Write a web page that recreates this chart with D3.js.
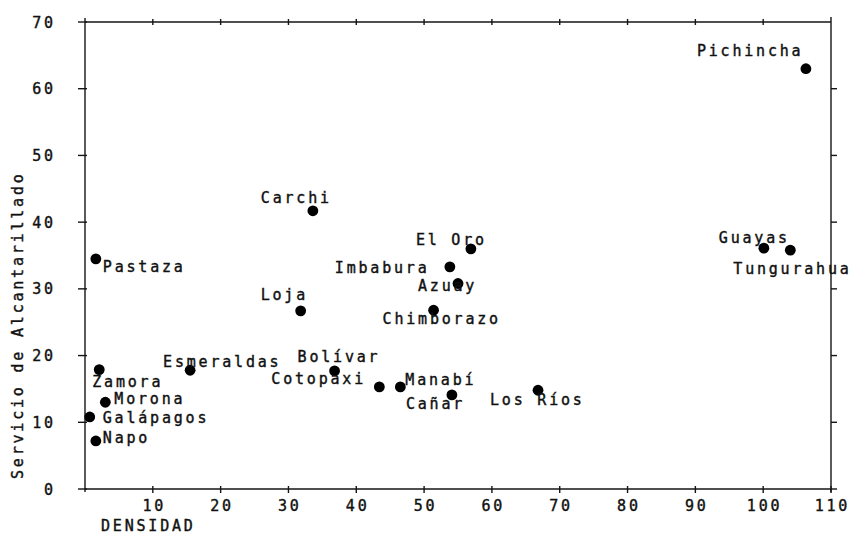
<!DOCTYPE html>
<html>
<head>
<meta charset="utf-8">
<script src="https://cdn.jsdelivr.net/npm/d3@7"></script>
<style>
  html, body { margin: 0; padding: 0; background: #fff; }
  svg text { font-family: "DejaVu Sans Mono", monospace; fill: #111; stroke: #111; stroke-width: 0.4px; }
</style>
</head>
<body>
<svg id="chart" width="851" height="534"></svg>
<script>
// Provincias del Ecuador: densidad de población vs. servicio de alcantarillado
const provinces = ["Pichincha", "Guayas", "Tungurahua", "Carchi", "El Oro", "Imbabura",
  "Azuay", "Chimborazo", "Loja", "Bolívar", "Cotopaxi", "Manabí", "Cañar", "Los Ríos",
  "Esmeraldas", "Zamora", "Morona", "Galápagos", "Napo", "Pastaza"];
const densidad = [106.3, 100.1, 104.0, 33.6, 56.9, 53.8,
  55.0, 51.4, 31.8, 36.8, 43.4, 46.5, 54.1, 66.8,
  15.5, 2.1, 3.0, 0.7, 1.6, 1.6];
const alcantarillado = [63.0, 36.1, 35.8, 41.7, 36.0, 33.3,
  30.8, 26.8, 26.7, 17.7, 15.3, 15.3, 14.1, 14.8,
  17.8, 17.9, 13.0, 10.8, 7.2, 34.5];
const xTicks = [10, 20, 30, 40, 50, 60, 70, 80, 90, 100, 110];
const yTicks = [0, 10, 20, 30, 40, 50, 60, 70];

// label placement relative to each point (dx, dy), in pixels
const labelOffsets = [[-109, -13], [-45, -5], [-57, 24], [-52, -8], [-55, -4], [-115, 6],
  [-40, 7], [-51, 14], [-40, -11], [-37, -9], [-108, -3], [5, -2], [-46, 14], [-48, 15],
  [-27, -3], [-7, 17], [9, 2], [13, 6], [7, 2], [7, 13]];

const svg = d3.select("#chart");
const x = d3.scaleLinear().domain([0, 110]).range([85, 831]);
const y = d3.scaleLinear().domain([0, 70]).range([489, 22]);
const LS = 2.8; // letter spacing
const FS = 15;

const ink = "#151515";

// frame
const frame = svg.append("g").attr("stroke", ink).attr("stroke-width", 1.4).attr("fill", "none");
frame.append("line").attr("x1", x(0)).attr("x2", x(110)).attr("y1", y(0)).attr("y2", y(0));
frame.append("line").attr("x1", x(0)).attr("x2", x(110)).attr("y1", y(70)).attr("y2", y(70));
frame.append("line").attr("x1", x(0)).attr("x2", x(0)).attr("y1", y(70) - 4).attr("y2", y(0) + 3);
frame.append("line").attr("x1", x(110)).attr("x2", x(110)).attr("y1", y(70) - 5).attr("y2", y(0) + 3);

// bottom axis ticks and labels
const bottom = svg.append("g");
bottom.selectAll("line").data(xTicks).join("line")
  .attr("x1", d => x(d)).attr("x2", d => x(d))
  .attr("y1", y(0) - 3).attr("y2", y(0) + 4)
  .attr("stroke", ink).attr("stroke-width", 1.4);
bottom.selectAll("text").data(xTicks).join("text")
  .attr("x", d => x(d) + LS / 2).attr("y", 511)
  .attr("text-anchor", "middle")
  .attr("font-size", FS).attr("letter-spacing", LS)
  .text(d => d);

// top ticks
svg.append("g").selectAll("line").data(xTicks.slice(0, -1)).join("line")
  .attr("x1", d => x(d)).attr("x2", d => x(d))
  .attr("y1", y(70) - 3).attr("y2", y(70) + 3)
  .attr("stroke", ink).attr("stroke-width", 1.4);

// left ticks and labels
const left = svg.append("g");
left.selectAll("line").data(yTicks).join("line")
  .attr("x1", x(0) - 7).attr("x2", x(0) + 2)
  .attr("y1", d => y(d)).attr("y2", d => y(d))
  .attr("stroke", ink).attr("stroke-width", 1.4);
left.selectAll("text").data(yTicks).join("text")
  .attr("x", 53 + LS).attr("y", d => y(d) + 5.5)
  .attr("text-anchor", "end")
  .attr("font-size", FS).attr("letter-spacing", LS)
  .text(d => d);

// right ticks
svg.append("g").selectAll("line").data(yTicks.slice(0, -1)).join("line")
  .attr("x1", x(110)).attr("x2", x(110) + 6)
  .attr("y1", d => y(d)).attr("y2", d => y(d))
  .attr("stroke", ink).attr("stroke-width", 1.4);

// axis titles
svg.append("text")
  .attr("x", 101).attr("y", 531)
  .attr("font-size", FS).attr("letter-spacing", LS)
  .text("DENSIDAD");
svg.append("text")
  .attr("transform", "translate(23,479) rotate(-90)")
  .attr("font-size", FS).attr("letter-spacing", LS)
  .text("Servicio de Alcantarillado");

// points
const pts = provinces.map((p, i) => ({ name: p, dx: densidad[i], al: alcantarillado[i], off: labelOffsets[i] }));
svg.append("g").selectAll("circle").data(pts).join("circle")
  .attr("cx", d => x(d.dx)).attr("cy", d => y(d.al))
  .attr("r", 5.4).attr("fill", "#000");

// point labels
svg.append("g").selectAll("text").data(pts).join("text")
  .attr("x", d => x(d.dx) + d.off[0]).attr("y", d => y(d.al) + d.off[1])
  .attr("font-size", FS).attr("letter-spacing", LS)
  .text(d => d.name);
</script>
</body>
</html>
